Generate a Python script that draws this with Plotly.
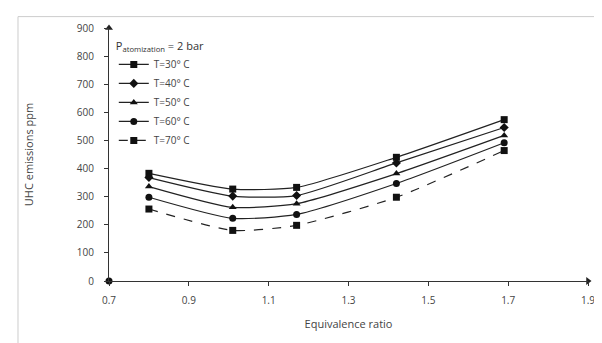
import plotly.graph_objects as go

phi = [0.80, 1.01, 1.17, 1.42, 1.69]
series_names = ["T=30° C", "T=40° C", "T=50° C", "T=60° C", "T=70° C"]
uhc_30 = [383, 327, 333, 440, 574]
uhc_40 = [368, 302, 304, 420, 546]
uhc_50 = [336, 262, 275, 382, 518]
uhc_60 = [298, 223, 237, 347, 492]
uhc_70 = [256, 180, 198, 298, 464]
x_ticks = [0.7, 0.9, 1.1, 1.3, 1.5, 1.7, 1.9]
y_ticks = [0, 100, 200, 300, 400, 500, 600, 700, 800, 900]

series = [uhc_30, uhc_40, uhc_50, uhc_60, uhc_70]
symbols = ["square", "diamond", "triangle-up", "circle", "square"]
dashes = ["solid", "solid", "solid", "solid", "dash"]

fig = go.Figure()
for name, vals, sym, dash in zip(series_names, series, symbols, dashes):
    fig.add_trace(go.Scatter(
        x=phi, y=vals, name=name, mode="lines+markers",
        line=dict(color="#222222", width=1.2, dash=dash, shape="spline", smoothing=0.6),
        marker=dict(symbol=sym, size=7, color="#111111"),
    ))

# axis arrow heads and origin dot
fig.add_trace(go.Scatter(x=[1.9], y=[0], mode="markers", showlegend=False, hoverinfo="skip",
                         cliponaxis=False,
                         marker=dict(symbol="triangle-right", size=7, color="#222222")))
fig.add_trace(go.Scatter(x=[0.7], y=[900], mode="markers", showlegend=False, hoverinfo="skip",
                         cliponaxis=False,
                         marker=dict(symbol="triangle-up", size=7, color="#222222")))
fig.add_trace(go.Scatter(x=[0.7], y=[0], mode="markers", showlegend=False, hoverinfo="skip",
                         cliponaxis=False,
                         marker=dict(symbol="circle", size=7, color="#111111")))

fig.update_layout(
    width=602, height=343,
    margin=dict(l=101, r=22, t=20, b=70),
    paper_bgcolor="white", plot_bgcolor="white",
    font=dict(family="Open Sans, Liberation Sans, sans-serif", size=10, color="#444444"),
    showlegend=True,
    legend=dict(
        x=0.01, y=0.97, xanchor="left", yanchor="top",
        bgcolor="rgba(0,0,0,0)",
        title=dict(text="P<sub>atomization</sub> = 2 bar", font=dict(size=11, color="#333333")),
        font=dict(size=10, color="#444444"),
        tracegroupgap=0,
    ),
    xaxis=dict(
        range=[0.7, 1.9], tickvals=x_ticks, ticktext=[str(v) for v in x_ticks],
        showgrid=False, zeroline=False, showline=True, linecolor="#333333", linewidth=1,
        ticks="outside", ticklen=4, tickcolor="#333333", ticklabelstandoff=6,
        ticklabeloverflow="allow",
        title=dict(text="Equivalence ratio", font=dict(size=11, color="#444444"), standoff=14),
    ),
    yaxis=dict(
        range=[0, 900], tickvals=y_ticks,
        showgrid=False, zeroline=False, showline=True, linecolor="#333333", linewidth=1,
        ticks="outside", ticklen=4, tickcolor="#333333", ticklabelstandoff=8,
        title=dict(text="UHC emissions ppm", font=dict(size=11, color="#444444"), standoff=40),
    ),
)

# outer border
fig.add_shape(type="rect", xref="paper", yref="paper", x0=-0.19, x1=1.03, y0=-0.27, y1=1.045,
              line=dict(color="#cccccc", width=1))

fig.write_html("out.html")
